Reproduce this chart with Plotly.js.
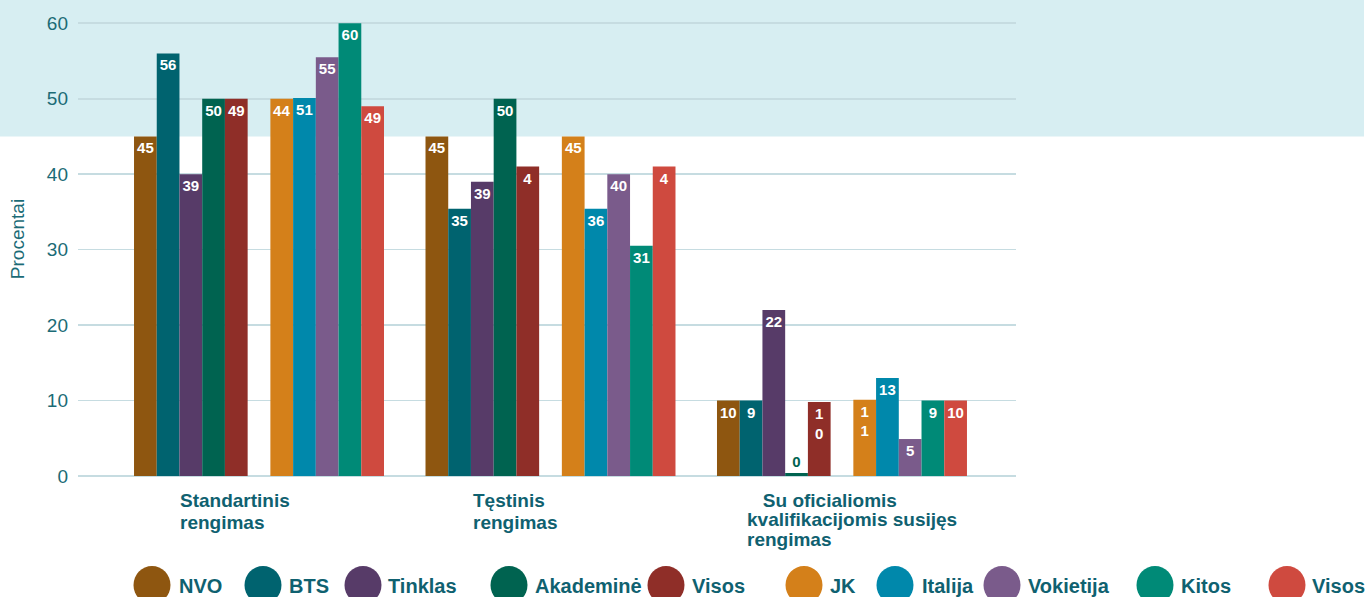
<!DOCTYPE html>
<html>
<head>
<meta charset="utf-8">
<script src="https://cdn.plot.ly/plotly-3.0.1.min.js"></script>
<style>
  html, body { margin: 0; padding: 0; background: #ffffff; }
  #chart { width: 1369px; height: 597px; }
</style>
</head>
<body>
<div id="chart"></div>
<script>
// ---------- DATA ----------
const categories = ["Standartinis\nrengimas", "Tęstinis\nrengimas", "\u00a0\u00a0\u00a0Su oficialiomis\nkvalifikacijomis susijęs\nrengimas"];
const seriesNames = ["NVO", "BTS", "Tinklas", "Akademinė", "Visos", "", "JK", "Italija", "Vokietija", "Kitos", "Visos"];

// bar heights as drawn
const nvo        = [45, 45, 10];
const bts        = [56, 35.4, 10];
const tinklas    = [40, 39, 22];
const akademine  = [50, 50, 0.4];
const visos1     = [50, 41, 9.8];
const gap        = [0, 0, 0];
const jk         = [50, 45, 10.1];
const italija    = [50.1, 35.4, 13];
const vokietija  = [55.5, 40, 4.9];
const kitos      = [60, 30.5, 10];
const visos2     = [49, 41, 10];

// printed labels
const nvoLbl       = ["45", "45", "10"];
const btsLbl       = ["56", "35", "9"];
const tinklasLbl   = ["39", "39", "22"];
const akademineLbl = ["50", "50", "0"];
const visos1Lbl    = ["49", "4", "1<br>0"];
const jkLbl        = ["44", "45", "1<br>1"];
const italijaLbl   = ["51", "36", "13"];
const vokietijaLbl = ["55", "40", "5"];
const kitosLbl     = ["60", "31", "9"];
const visos2Lbl    = ["49", "4", "10"];

const yTicks = [0, 10, 20, 30, 40, 50, 60];
const yTitle = "Procentai";

// ---------- STYLE ----------
const colors = ["#8E5610", "#00636F", "#573B68", "#006350", "#8F2E28", "rgba(0,0,0,0)",
                "#D4801A", "#0088AB", "#7A5B8B", "#008A77", "#CF4A3F"];
const FONT = "Liberation Sans, Arial, Helvetica, sans-serif";
const TEAL = "#1b6b76";
const DARKTEAL = "#0f6170";

const values = [nvo, bts, tinklas, akademine, visos1, gap, jk, italija, vokietija, kitos, visos2];
const labels = [nvoLbl, btsLbl, tinklasLbl, akademineLbl, visos1Lbl, null, jkLbl, italijaLbl, vokietijaLbl, kitosLbl, visos2Lbl];
const xIdx = categories.map((c, i) => i);

const traces = values.map((v, k) => {
  const t = {
    type: "bar",
    name: seriesNames[k] || "gap",
    x: xIdx,
    y: v,
    marker: { color: colors[k] },
    showlegend: false,
    hoverinfo: k === 5 ? "skip" : "x+y+name",
    constraintext: "none",
    cliponaxis: false
  };
  if (labels[k]) {
    t.text = labels[k];
    t.texttemplate = "%{text}";
    t.textposition = v.map(val => (val < 3 ? "outside" : "inside"));
    t.insidetextanchor = "end";
    t.textangle = 0;
    t.textfont = { family: FONT, size: 15, color: "#ffffff", weight: "bold" };
    t.insidetextfont = { family: FONT, size: 15, color: "#ffffff", weight: "bold" };
    t.outsidetextfont = { family: FONT, size: 15, color: colors[k], weight: "bold" };
  }
  return t;
});

// ---------- LAYOUT GEOMETRY ----------
const W = 1369, H = 597;
const mL = 78, mR = W - 1016, mT = 0, mB = 119;
const plotW = W - mL - mR, plotH = H - mT - mB;
const px2paperX = px => (px - mL) / plotW;
const px2paperY = py => (H - mB - py) / plotH;

// legend placement (pixels)
const legendCircleX = [152, 263, 363, 509, 666, 804, 895, 1002, 1155, 1287];
const legendTextX   = [177, 287, 386, 533, 690, 828, 920, 1026, 1179, 1310];
const legendY = 585;
const legendIdx = [0, 1, 2, 3, 4, 6, 7, 8, 9, 10];

const shapes = [
  { type: "rect", xref: "paper", yref: "y", x0: px2paperX(0), x1: px2paperX(1364), y0: 45, y1: 80,
    fillcolor: "#d7eef2", line: { width: 0 }, layer: "below" }
];
const annotations = [];

legendIdx.forEach((k, j) => {
  shapes.push({
    type: "circle", xref: "paper", yref: "paper",
    xsizemode: "pixel", ysizemode: "pixel",
    xanchor: px2paperX(legendCircleX[j]), yanchor: px2paperY(legendY),
    x0: -18.5, x1: 18.5, y0: -19, y1: 19,
    fillcolor: colors[k], line: { width: 0 }
  });
  annotations.push({
    xref: "paper", yref: "paper",
    x: px2paperX(legendTextX[j]), y: px2paperY(legendY + 1),
    xanchor: "left", yanchor: "middle", showarrow: false,
    text: seriesNames[k],
    font: { family: FONT, size: 20, color: DARKTEAL, weight: "bold" }
  });
});

// category labels, one annotation per line
const catShift = [-81, -80, -97];
const catLinePitch = [22, 22, 19.5];
const catFirstLineY = 500;
categories.forEach((c, i) => {
  c.split("\n").forEach((line, li) => {
    annotations.push({
      xref: "x", yref: "paper", x: i, xshift: catShift[i],
      y: px2paperY(catFirstLineY + li * catLinePitch[i]),
      xanchor: "left", yanchor: "middle", align: "left",
      showarrow: false, text: line,
      font: { family: FONT, size: 19, color: DARKTEAL, weight: "bold" }
    });
  });
});

const layout = {
  width: W, height: H,
  margin: { l: mL, r: mR, t: mT, b: mB, pad: 0 },
  paper_bgcolor: "rgba(0,0,0,0)",
  plot_bgcolor: "rgba(0,0,0,0)",
  barmode: "group",
  bargap: 0.1424,
  bargroupgap: 0,
  showlegend: false,
  font: { family: FONT, color: TEAL },
  xaxis: {
    range: [-0.621, 2.597],
    showticklabels: false, showgrid: false, zeroline: false, showline: false,
    ticks: "", fixedrange: true
  },
  yaxis: {
    range: [-0.265, 63.08],
    tickvals: yTicks,
    ticktext: yTicks.map(String),
    showgrid: true, gridcolor: "#c6dce1", gridwidth: 1.6,
    zeroline: false, showline: false, ticks: "",
    ticklabelstandoff: 9,
    tickfont: { family: FONT, size: 19, color: TEAL },
    title: { text: yTitle, font: { family: FONT, size: 19, color: TEAL }, standoff: 17 },
    automargin: false, fixedrange: true
  },
  shapes: shapes,
  annotations: annotations
};

Plotly.newPlot("chart", traces, layout, { displayModeBar: false, staticPlot: true });
</script>
</body>
</html>
